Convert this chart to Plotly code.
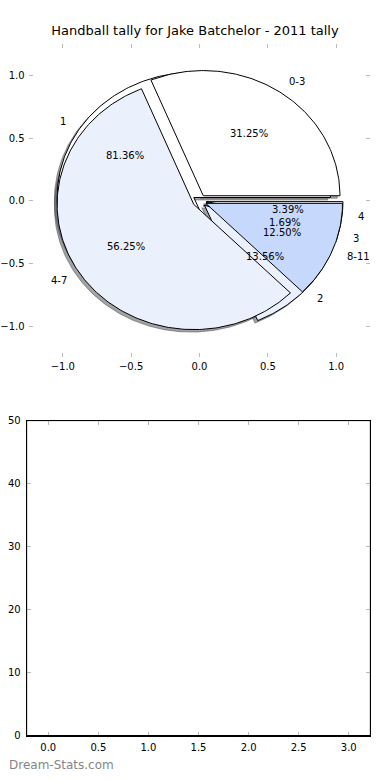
import math
import plotly.graph_objects as go

# ---- data ----
age_labels = ["0-3", "4-7", "8-11"]
age_values = [5, 9, 2]
count_labels = ["1", "2", "3", "4"]
count_values = [48, 8, 1, 2]
slice_colors = ["#FFFFFF", "#EAF0FC", "#C6D9FD"]
explode_amount = 0.05
title_text = "Handball tally for Jake Batchelor - 2011 tally"
pie_ticks = [-1.0, -0.5, 0.0, 0.5, 1.0]
bar_xticks = [0.0, 0.5, 1.0, 1.5, 2.0, 2.5, 3.0]
bar_yticks = [0, 10, 20, 30, 40, 50]

W, H = 390, 780
FONT = "DejaVu Sans"


def wedges(values):
    total = float(sum(values))
    out = []
    t = 0.0
    for v in values:
        frac = v / total
        t1, t2 = t * 360.0, (t + frac) * 360.0
        out.append((t1, t2, frac))
        t += frac
    return out


def wedge_poly(cx, cy, t1, t2):
    n = max(int(abs(t2 - t1)) + 2, 3)
    xs, ys = [cx], [cy]
    for i in range(n + 1):
        a = math.radians(t1 + (t2 - t1) * i / n)
        xs.append(cx + math.cos(a))
        ys.append(cy + math.sin(a))
    xs.append(cx)
    ys.append(cy)
    return xs, ys


def hex_rgb(h):
    h = h.lstrip("#")
    return tuple(int(h[i:i + 2], 16) for i in (0, 2, 4))


fig = go.Figure()

pies = [(count_labels, count_values), (age_labels, age_values)]
geom = []
for labels, values in pies:
    g = []
    for i, (t1, t2, frac) in enumerate(wedges(values)):
        mid = math.radians((t1 + t2) / 2)
        cx = explode_amount * math.cos(mid)
        cy = explode_amount * math.sin(mid)
        g.append((labels[i], t1, t2, frac, mid, cx, cy, slice_colors[i % len(slice_colors)]))
    geom.append(g)

# shadows
for g in geom:
    for (lab, t1, t2, frac, mid, cx, cy, col) in g:
        r, gg, b = hex_rgb(col)
        sc = "rgba(%d,%d,%d,0.5)" % (int(0.3 * r), int(0.3 * gg), int(0.3 * b))
        xs, ys = wedge_poly(cx - 0.02, cy - 0.02, t1, t2)
        fig.add_trace(go.Scatter(x=xs, y=ys, mode="lines", fill="toself", fillcolor=sc,
                                 line=dict(color=sc, width=1), hoverinfo="skip",
                                 showlegend=False, xaxis="x", yaxis="y"))
# wedges
for g in geom:
    for (lab, t1, t2, frac, mid, cx, cy, col) in g:
        xs, ys = wedge_poly(cx, cy, t1, t2)
        fig.add_trace(go.Scatter(x=xs, y=ys, mode="lines", fill="toself", fillcolor=col,
                                 line=dict(color="black", width=1), hoverinfo="skip",
                                 showlegend=False, xaxis="x", yaxis="y"))

# labels and percentages
for g in geom:
    for (lab, t1, t2, frac, mid, cx, cy, col) in g:
        lx = cx + 1.1 * math.cos(mid)
        ly = cy + 1.1 * math.sin(mid)
        fig.add_annotation(x=lx, y=ly, xref="x", yref="y", text=lab, showarrow=False,
                           xanchor="left" if lx > 0 else "right", yanchor="middle",
                           font=dict(family=FONT, size=10, color="black"))
        px_ = cx + 0.6 * math.cos(mid)
        py_ = cy + 0.6 * math.sin(mid)
        fig.add_annotation(x=px_, y=py_, xref="x", yref="y", text="%.2f%%" % (frac * 100),
                           showarrow=False, xanchor="center", yanchor="middle",
                           font=dict(family=FONT, size=10, color="black"))

# empty bottom axes
fig.add_trace(go.Scatter(x=[], y=[], xaxis="x2", yaxis="y2", showlegend=False))

tick_common = dict(ticks="inside", ticklen=4, tickwidth=1, tickcolor="#BBBBBB",
                   showgrid=False, zeroline=False,
                   tickfont=dict(family=FONT, size=10, color="black"))

fig.update_layout(
    width=W, height=H,
    margin=dict(l=0, r=0, t=0, b=0),
    paper_bgcolor="white", plot_bgcolor="rgba(0,0,0,0)",
    title=dict(text=title_text, x=0.5, xanchor="center", y=1 - 30 / H, yanchor="middle",
               font=dict(family=FONT, size=13, color="black")),
    xaxis=dict(domain=[22 / W, 370 / W], range=[-1.25, 1.25], anchor="y",
               tickvals=pie_ticks, tickformat=".1f", showline=False, mirror="ticks",
               fixedrange=True, ticklabelstandoff=2, **tick_common),
    yaxis=dict(domain=[1 - 357 / H, 1 - 40 / H], range=[-1.25, 1.25], anchor="x",
               tickvals=pie_ticks, tickformat=".1f", showline=False, mirror="ticks",
               fixedrange=True, ticklabelstandoff=3, **tick_common),
    xaxis2=dict(domain=[20 / W, 370 / W], range=[-0.2157, 3.2157], anchor="y2",
                tickvals=bar_xticks, tickformat=".1f", showline=True, linecolor="black",
                linewidth=1, mirror="ticks", ticklabelstandoff=2, fixedrange=True, **tick_common),
    yaxis2=dict(domain=[1 - 740 / H, 1 - 421 / H], range=[0, 50], anchor="x2",
                tickvals=bar_yticks, showline=True, linecolor="black", linewidth=1,
                mirror="ticks", ticklabelstandoff=3, fixedrange=True, **tick_common),
)
fig.update_layout(shapes=[dict(type="rect", xref="x2 domain", yref="y2 domain", x0=0, x1=1,
                                y0=0, y1=1, line=dict(color="black", width=1), layer="above")])

fig.add_annotation(x=0, y=1 - 770 / H, xref="paper", yref="paper", text="Dream-Stats.com",
                   showarrow=False, xanchor="left", yanchor="middle",
                   font=dict(family=FONT, size=12, color="#858585"))

fig.write_html("out.html", config={"displayModeBar": False},
               post_script="document.body.style.margin='0';document.documentElement.style.overflow='hidden';document.body.style.overflow='hidden';")
